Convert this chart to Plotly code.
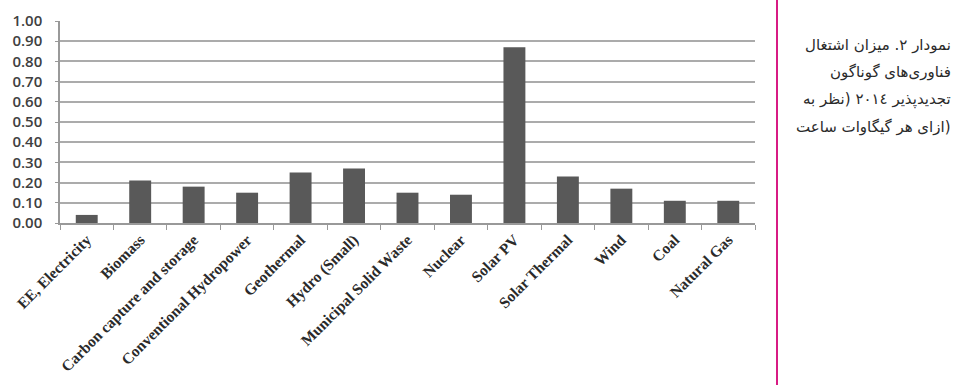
import plotly.graph_objects as go

categories = ["EE, Electricity", "Biomass", "Carbon capture and storage",
              "Conventional Hydropower", "Geothermal", "Hydro (Small)",
              "Municipal Solid Waste", "Nuclear", "Solar PV", "Solar Thermal",
              "Wind", "Coal", "Natural Gas"]
values = [0.04, 0.21, 0.18, 0.15, 0.25, 0.27, 0.15, 0.14, 0.87, 0.23, 0.17, 0.11, 0.11]
y_ticks = [0.0, 0.1, 0.2, 0.3, 0.4, 0.5, 0.6, 0.7, 0.8, 0.9, 1.0]
y_tick_labels = ["%.2f" % v for v in y_ticks]
caption_lines = ["نمودار ٢. میزان اشتغال",
                 "فناوری‌های گوناگون",
                 "تجدیدپذیر ٢٠١٤ (نظر به",
                 "ازای هر گیگاوات ساعت)"]

W, H = 970, 385
L, R, T, B = 60, 215, 21, 162
pw, ph = W - L - R, H - T - B

def px_x(x):
    return (x - L) / pw

def px_y(y):
    return (H - B - y) / ph

fig = go.Figure(go.Bar(x=categories, y=values, marker_color="#595959",
                       marker_line_width=0))

for i, line in enumerate(caption_lines):
    fig.add_annotation(text=line, xref="paper", yref="paper",
                       x=px_x(953), y=px_y(45 + i * 27.3), xanchor="right", yanchor="middle",
                       showarrow=False, align="right",
                       font=dict(family="DejaVu Sans", size=15, color="#2a2a2a"))

fig.add_shape(type="line", xref="paper", yref="paper",
              x0=px_x(777), x1=px_x(777), y0=px_y(0), y1=px_y(H),
              line=dict(color="#d81b84", width=2))

fig.update_layout(
    width=W, height=H,
    margin=dict(l=L, r=R, t=T, b=B, autoexpand=False),
    plot_bgcolor="white", paper_bgcolor="white",
    bargap=0.59, showlegend=False,
    xaxis=dict(type="category", tickangle=-45, tickson="boundaries",
               ticks="outside", ticklen=5, tickcolor="#999999",
               showline=True, linecolor="#999999", linewidth=1.5,
               showgrid=False,
               tickfont=dict(family="Liberation Serif", size=15.5, color="#2a2a2a",
                             weight="bold")),
    yaxis=dict(range=[0, 1.0], tickvals=y_ticks, ticktext=y_tick_labels,
               showgrid=True, gridcolor="#ababab", gridwidth=1.6,
               showline=True, linecolor="#999999", linewidth=1.5,
               ticks="outside", ticklen=3, tickcolor="#999999",
               ticklabelstandoff=10, zeroline=False,
               tickfont=dict(family="Open Sans", size=15, color="#404040",
                             weight=600)),
)

fig.write_html("out.html")
